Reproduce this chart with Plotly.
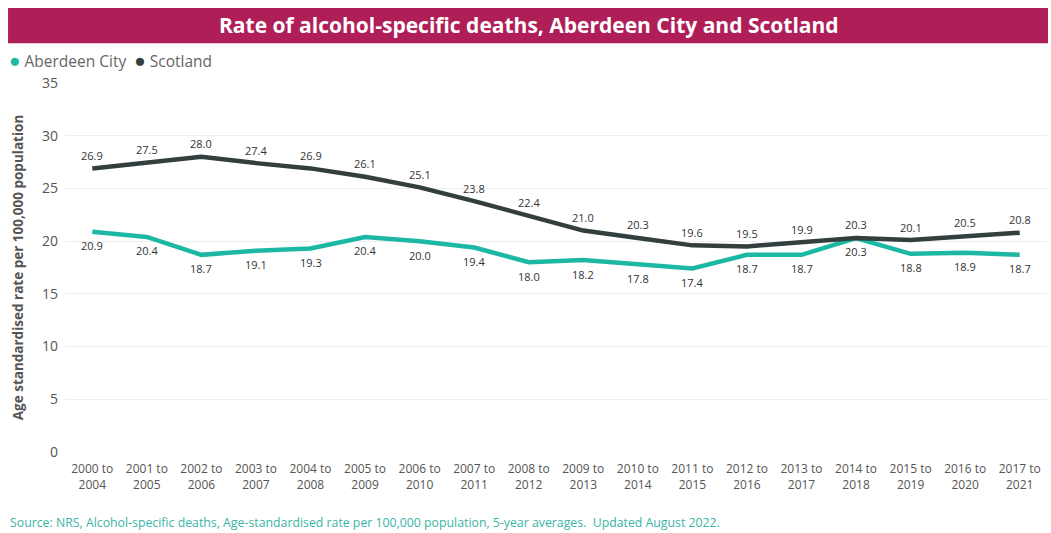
import plotly.graph_objects as go

periods = ["2000 to<br>2004", "2001 to<br>2005", "2002 to<br>2006", "2003 to<br>2007",
           "2004 to<br>2008", "2005 to<br>2009", "2006 to<br>2010", "2007 to<br>2011",
           "2008 to<br>2012", "2009 to<br>2013", "2010 to<br>2014", "2011 to<br>2015",
           "2012 to<br>2016", "2013 to<br>2017", "2014 to<br>2018", "2015 to<br>2019",
           "2016 to<br>2020", "2017 to<br>2021"]
aberdeen = [20.9, 20.4, 18.7, 19.1, 19.3, 20.4, 20.0, 19.4, 18.0, 18.2, 17.8, 17.4,
            18.7, 18.7, 20.3, 18.8, 18.9, 18.7]
scotland = [26.9, 27.5, 28.0, 27.4, 26.9, 26.1, 25.1, 23.8, 22.4, 21.0, 20.3, 19.6,
            19.5, 19.9, 20.3, 20.1, 20.5, 20.8]
y_ticks = [0, 5, 10, 15, 20, 25, 30, 35]

teal = "#1DB8A3"
dark = "#333E3E"
font_family = "Open Sans, Noto Sans, sans-serif"

fig = go.Figure()

fig.add_trace(go.Scatter(x=periods, y=aberdeen, mode="lines", name="Aberdeen City",
                         line=dict(color=teal, width=4.5), showlegend=False))
fig.add_trace(go.Scatter(x=periods, y=scotland, mode="lines", name="Scotland",
                         line=dict(color=dark, width=4.5), showlegend=False))

annotations = []
# data labels: Scotland above its line, Aberdeen below
for series, shift in [(scotland, 13), (aberdeen, -14)]:
    for p, v in zip(periods, series):
        annotations.append(dict(x=p, y=v, xref="x", yref="y", text=f"{v:.1f}",
                                showarrow=False, yshift=shift, xanchor="center",
                                yanchor="middle",
                                font=dict(size=11, color="#333333", family=font_family)))

# legend line
annotations.append(dict(
    text=f"<span style='color:{teal};font-size:19px'>●</span> Aberdeen City  "
         f"<span style='color:{dark};font-size:19px'>●</span> Scotland",
    xref="paper", yref="paper", x=-0.059, y=1.062, xanchor="left", yanchor="middle",
    showarrow=False, font=dict(size=15.5, color="#666666", family=font_family)))

annotations.append(dict(
    text="<b>Rate of alcohol-specific deaths, Aberdeen City and Scotland</b>",
    xref="paper", yref="paper", x=0.472, y=1.156, xanchor="center", yanchor="middle",
    showarrow=False, font=dict(size=21, color="white", family=font_family)))

annotations.append(dict(
    text="Source: NRS, Alcohol-specific deaths, Age-standardised rate per 100,000 population, 5-year averages.  Updated August 2022.",
    xref="paper", yref="paper", x=-0.058, y=-0.19, xanchor="left", yanchor="middle",
    showarrow=False, font=dict(size=12.3, color="#3AB5A6", family=font_family)))

fig.update_layout(
    width=1051, height=533,
    margin=dict(l=65, r=4, t=83, b=81),
    paper_bgcolor="white", plot_bgcolor="white",
    font=dict(family=font_family, color="#555555"),
    showlegend=False,
    xaxis=dict(type="category", showgrid=False, showline=False, ticks="",
               tickfont=dict(size=12, color="#555555"), range=[-0.5, 17.5],
               ticklabelstandoff=8),
    yaxis=dict(range=[0, 35], tickvals=y_ticks, showgrid=True, gridcolor="#EEEEEE",
               gridwidth=1, zeroline=False, showline=False, ticks="",
               tickfont=dict(size=14, color="#555555"), ticklabelstandoff=6,
               title=dict(text="<b>Age standardised rate per 100,000 population</b>",
                          font=dict(size=13.5, color="#555555"), standoff=15)),
    shapes=[dict(type="rect", xref="paper", yref="paper",
                 x0=-0.058, x1=1.001, y0=1.108, y1=1.203,
                 fillcolor="#B01E57", line=dict(width=0), layer="below")],
    annotations=annotations,
)

fig.write_html("out.html")
